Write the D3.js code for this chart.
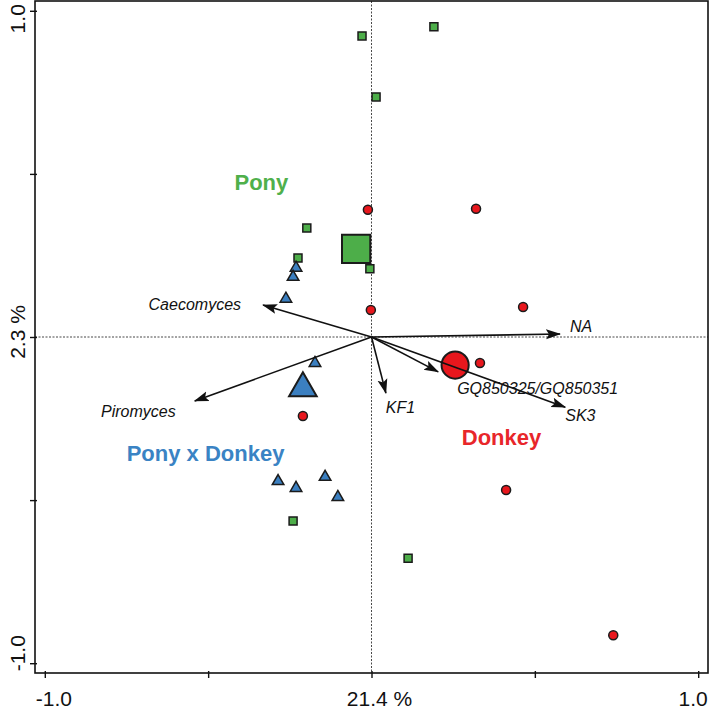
<!DOCTYPE html>
<meta charset="utf-8">
<head>
    <title>RDA ordination - Pony, Donkey, Pony x Donkey</title>
    <script type="text/javascript" src="https://cdnjs.cloudflare.com/ajax/libs/d3/7.8.5/d3.min.js"></script>
    <style>
        body { margin: 0; background: #fff; }
        text { font-family: "Liberation Sans", Arial, Helvetica, sans-serif; }
    </style>
</head>
<body>
<div id="chart"></div>
<script>
    // ---- data ----
    // samples, one array per group: [axis1, axis2]
    const ponyPts = [[0.191, 0.951], [-0.029, 0.923], [0.014, 0.736], [-0.198, 0.334],
                     [-0.225, 0.242], [-0.005, 0.209], [-0.240, -0.564], [0.112, -0.678]];
    const donkeyPts = [[-0.011, 0.390], [0.320, 0.393], [0.464, 0.092], [-0.002, 0.083],
                       [0.332, -0.080], [-0.210, -0.242], [0.412, -0.469], [0.740, -0.914]];
    const hybridPts = [[-0.231, 0.212], [-0.240, 0.184], [-0.262, 0.117], [-0.173, -0.080],
                       [-0.286, -0.442], [-0.231, -0.463], [-0.142, -0.429], [-0.103, -0.491]];
    // group centroids
    const centroids = [[-0.047, 0.270], [0.256, -0.086], [-0.210, -0.169]];
    const groupNames = ["Pony", "Donkey", "Pony x Donkey"];

    // explanatory variables (arrows)
    const taxa = ["Caecomyces", "Piromyces", "NA", "GQ850325/GQ850351", "SK3", "KF1"];
    const taxaX = [-0.332, -0.541, 0.577, 0.204, 0.593, 0.044];
    const taxaY = [0.098, -0.196, 0.009, -0.107, -0.215, -0.172];

    // axes
    const tickVals = [-1, -0.5, 0, 0.5, 1];
    const xTickLabels = ["-1.0", "21.4 %", "1.0"];
    const yTickLabels = ["-1.0", "2.3 %", "1.0"];

    // ---- layout / style ----
    const W = 709, H = 711;
    const colors = ["#4dae49", "#e8171d", "#3b7fc0"];
    const labelColors = ["#4fb04b", "#e8262a", "#3a83c4"];
    // where the group names sit, in plot units
    const groupLabelPos = [[-0.337, 0.475], [0.398, -0.307], [-0.508, -0.357]];
    // arrow label offsets from the arrow tip, pixels [dx, dy, anchor]
    const taxaLabelOff = [[-22, 5, "end"], [-19, 16, "end"], [10, -2, "start"],
                          [19, 22, "start"], [0, 14, "start"], [0, 20, "start"]];

    const svg = d3.select("#chart").append("svg")
        .attr("width", W).attr("height", H);

    const x = d3.scaleLinear().domain([-1.03, 1.03]).range([35, 708]);
    const y = d3.scaleLinear().domain([-1.03, 1.03]).range([673, 1]);

    // arrow head
    svg.append("defs").append("marker")
        .attr("id", "head")
        .attr("markerUnits", "userSpaceOnUse")
        .attr("viewBox", "0 -6 15 12")
        .attr("refX", 14).attr("refY", 0)
        .attr("markerWidth", 15).attr("markerHeight", 12)
        .attr("orient", "auto")
        .append("path")
        .attr("d", "M0,-5L15,0L0,5L3,0Z")
        .attr("fill", "#111");

    // zero lines
    svg.append("line")
        .attr("x1", x(0)).attr("x2", x(0)).attr("y1", y(1.03)).attr("y2", y(-1.03))
        .attr("stroke", "#333").attr("stroke-width", 0.9).attr("stroke-dasharray", "2,1.5");
    svg.append("line")
        .attr("x1", x(-1.03)).attr("x2", x(1.03)).attr("y1", y(0)).attr("y2", y(0))
        .attr("stroke", "#333").attr("stroke-width", 0.9).attr("stroke-dasharray", "2,1.5");

    // axes ticks (labels drawn separately)
    const xAxis = d3.axisBottom(x).tickValues(tickVals).tickSize(5).tickSizeOuter(0).tickFormat("");
    const gx = svg.append("g").attr("transform", "translate(0," + y(-1.03) + ")").call(xAxis);
    gx.select(".domain").remove();
    gx.selectAll(".tick line").attr("y1", -2).attr("stroke", "#111").attr("stroke-width", 1.4);

    const yAxis = d3.axisLeft(y).tickValues(tickVals).tickSize(5).tickSizeOuter(0).tickFormat("");
    const gy = svg.append("g").attr("transform", "translate(" + x(-1.03) + ",0)").call(yAxis);
    gy.select(".domain").remove();
    gy.selectAll(".tick line").attr("x1", 2).attr("stroke", "#111").attr("stroke-width", 1.4);

    // frame
    svg.append("rect")
        .attr("x", x(-1.03)).attr("y", y(1.03))
        .attr("width", x(1.03) - x(-1.03)).attr("height", y(-1.03) - y(1.03))
        .attr("fill", "none").attr("stroke", "#111").attr("stroke-width", 1.6);

    // tick labels
    const xLabVals = [-1, 0, 1], xLabDx = [9, 8, -5];
    svg.append("g").selectAll("text")
        .data(xTickLabels).enter().append("text")
        .attr("x", (d, i) => x(xLabVals[i]) + xLabDx[i])
        .attr("y", 706)
        .attr("text-anchor", "middle")
        .attr("font-size", 21)
        .attr("fill", "#111")
        .text(d => d);

    const yLabDy = [-10, -5, 8];
    svg.append("g").selectAll("text")
        .data(yTickLabels).enter().append("text")
        .attr("transform", (d, i) => "translate(25," + (y(xLabVals[i]) + yLabDy[i]) + ") rotate(-90)")
        .attr("text-anchor", "middle")
        .attr("font-size", 21)
        .attr("fill", "#111")
        .text(d => d);

    // sample points
    const sym = [d3.symbolSquare, d3.symbolCircle, d3.symbolTriangle];
    const smallSize = [64, 64, 58];
    const bigSize = [800, 580, 330];
    const groups = [ponyPts, donkeyPts, hybridPts];

    const pts = svg.append("g");
    groups.forEach((arr, gi) => {
        pts.selectAll(".p" + gi)
            .data(arr).enter().append("path")
            .attr("class", "p" + gi)
            .attr("d", d3.symbol().type(sym[gi]).size(smallSize[gi]))
            .attr("transform", d => "translate(" + x(d[0]) + "," + y(d[1]) + ")")
            .attr("fill", colors[gi])
            .attr("stroke", "#1b1b1b")
            .attr("stroke-width", 1.5);
    });
    pts.selectAll(".cen")
        .data(centroids).enter().append("path")
        .attr("class", "cen")
        .attr("d", (d, i) => d3.symbol().type(sym[i]).size(bigSize[i])())
        .attr("transform", (d, i) => "translate(" + x(d[0]) + "," + y(d[1] + (i === 2 ? 0.012 : 0)) + ")")
        .attr("fill", (d, i) => colors[i])
        .attr("stroke", "#1b1b1b")
        .attr("stroke-width", 2);

    // arrows
    const arrows = svg.append("g");
    arrows.selectAll("line")
        .data(taxa).enter().append("line")
        .attr("x1", x(0)).attr("y1", y(0))
        .attr("x2", (d, i) => x(taxaX[i]))
        .attr("y2", (d, i) => y(taxaY[i]))
        .attr("stroke", "#111")
        .attr("stroke-width", 1.6)
        .attr("marker-end", "url(#head)");
    arrows.selectAll("text")
        .data(taxa).enter().append("text")
        .attr("x", (d, i) => x(taxaX[i]) + taxaLabelOff[i][0])
        .attr("y", (d, i) => y(taxaY[i]) + taxaLabelOff[i][1])
        .attr("text-anchor", (d, i) => taxaLabelOff[i][2])
        .attr("font-size", 16)
        .attr("font-style", "italic")
        .attr("fill", "#111")
        .text(d => d);

    // group names
    svg.append("g").selectAll("text")
        .data(groupNames).enter().append("text")
        .attr("x", (d, i) => x(groupLabelPos[i][0]))
        .attr("y", (d, i) => y(groupLabelPos[i][1]))
        .attr("text-anchor", "middle")
        .attr("dominant-baseline", "central")
        .attr("font-size", 22)
        .attr("font-weight", "bold")
        .attr("fill", (d, i) => labelColors[i])
        .text(d => d);
</script>
</body>
</html>
